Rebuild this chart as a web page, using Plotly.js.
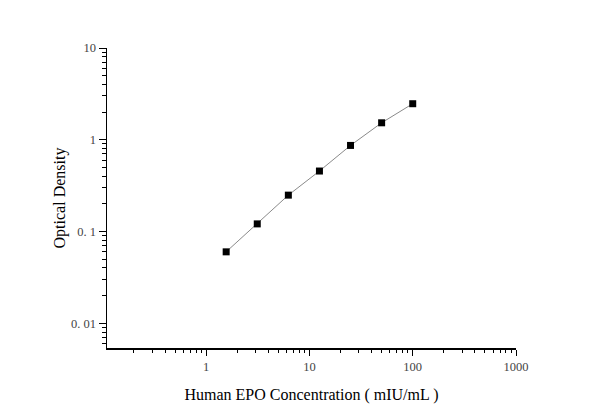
<!DOCTYPE html>
<html>
<head>
<meta charset="utf-8">
<script src="https://cdn.plot.ly/plotly-3.0.1.min.js"></script>
<style>
  html, body { margin: 0; padding: 0; background: #fff; }
  #chart { width: 600px; height: 419px; }
</style>
</head>
<body>
<div id="chart"></div>
<script>
// standard curve points
const concentration = [1.5625, 3.125, 6.25, 12.5, 25, 50, 100];
const opticalDensity = [0.060, 0.121, 0.249, 0.456, 0.867, 1.53, 2.47];

const xTickVals = [1, 10, 100, 1000];
const xTickText = ['1', '10', '100', '1000'];
const yTickVals = [0.01, 0.1, 1, 10];
const yTickText = ['0. 01', '0. 1', '1', '10'];

const font = 'Liberation Serif, Times New Roman, serif';

Plotly.newPlot('chart', [{
  x: concentration,
  y: opticalDensity,
  type: 'scatter',
  mode: 'lines+markers',
  line: { color: '#8a8a8a', width: 1 },
  marker: { symbol: 'square', size: 7, color: '#000' },
  showlegend: false
}], {
  width: 600,
  height: 419,
  margin: { l: 107, r: 84, t: 48, b: 71 },
  paper_bgcolor: '#fff',
  plot_bgcolor: '#fff',
  font: { family: font, color: '#000' },
  xaxis: {
    type: 'log',
    range: [-0.96, 3],
    tickvals: xTickVals,
    ticktext: xTickText,
    ticks: 'outside',
    ticklen: 6,
    tickwidth: 1,
    tickcolor: '#000',
    minor: { ticks: 'outside', ticklen: 3, tickcolor: '#000', dtick: 'D1', showgrid: false },
    showline: true,
    linecolor: '#000',
    linewidth: 1.5,
    showgrid: false,
    zeroline: false,
    tickfont: { family: font, size: 12.5, color: '#444' },
    title: { text: 'Human EPO Concentration ( mIU/mL )', font: { family: font, size: 16, color: '#000' }, standoff: 16 }
  },
  yaxis: {
    type: 'log',
    range: [-2.27, 1],
    tickvals: yTickVals,
    ticktext: yTickText,
    ticks: 'outside',
    ticklen: 7,
    tickwidth: 1,
    tickcolor: '#000',
    minor: { ticks: 'outside', ticklen: 4, tickcolor: '#000', dtick: 'D1', showgrid: false },
    showline: true,
    linecolor: '#000',
    linewidth: 1.5,
    showgrid: false,
    zeroline: false,
    tickfont: { family: font, size: 12.5, color: '#444' },
    title: { text: 'Optical Density', font: { family: font, size: 16, color: '#000' }, standoff: 1 }
  }
}, { displayModeBar: false, staticPlot: true });
</script>
</body>
</html>
